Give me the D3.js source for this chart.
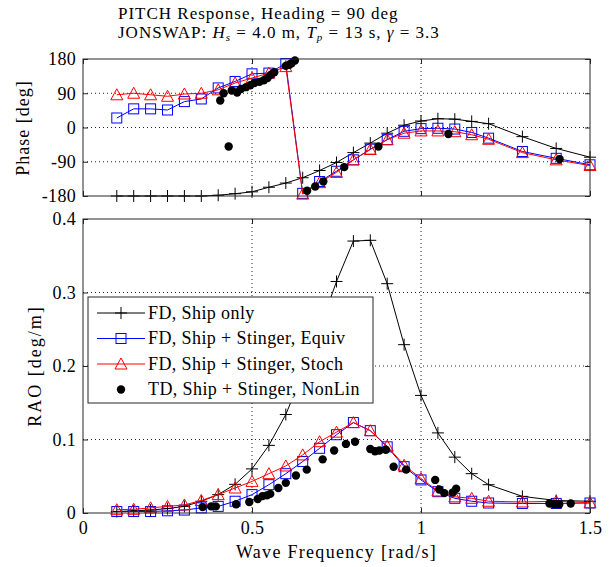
<!DOCTYPE html>
<html>
<head>
<meta charset="utf-8">
<script src="https://cdn.jsdelivr.net/npm/d3@7"></script>
<style>
body { margin: 0; background: #fff; }
text { font-family: "Liberation Serif", "Times New Roman", serif; fill: #000; }
</style>
</head>
<body>
<script>
// frequency-domain results, one value per frequency
var freqFD = [0.1, 0.15, 0.2, 0.25, 0.3, 0.35, 0.4, 0.45, 0.5, 0.55, 0.6, 0.65, 0.7, 0.75, 0.8, 0.85, 0.9, 0.95, 1.0, 1.05, 1.1, 1.15, 1.2, 1.3, 1.4, 1.5];
var phaseShip = [-180, -180, -180, -180, -180, -180, -178, -174, -169, -157, -146, -132, -113, -92, -66, -41, -15, 6, 17, 23, 22, 16, 10, -24, -55, -78];
var phaseEquiv = [25, 49, 49, 46, 68, 75, 104, 121, 141, 143, 168, -173, -142, -115, -85, -57, -32, -10, -3, -2, -4, -13, -28, -63, -81, -98];
var phaseStoch = [86, 90, 86, 82, 88, 90, 99, 117, 130, 143, 160, -175, -145, -118, -85, -58, -32, -15, -9, -9, -11, -19, -31, -66, -85, -100];
var raoShip = [0.002, 0.003, 0.004, 0.006, 0.009, 0.016, 0.025, 0.039, 0.06, 0.092, 0.134, 0.19, 0.25, 0.315, 0.37, 0.371, 0.312, 0.229, 0.16, 0.109, 0.076, 0.0535, 0.0385, 0.0226, 0.017, 0.016];
var raoEquiv = [0.002, 0.002, 0.002, 0.003, 0.004, 0.007, 0.009, 0.016, 0.025, 0.0385, 0.0535, 0.07, 0.088, 0.1065, 0.123, 0.112, 0.09, 0.063, 0.045, 0.029, 0.02, 0.016, 0.0136, 0.013, 0.013, 0.0136];
var raoStoch = [0.0045, 0.005, 0.007, 0.009, 0.011, 0.017, 0.025, 0.034, 0.043, 0.0535, 0.064, 0.079, 0.097, 0.11, 0.123, 0.112, 0.091, 0.065, 0.047, 0.03, 0.022, 0.02, 0.016, 0.015, 0.016, 0.014];

// time-domain (nonlinear) points
var tdFreqPhase = [0.406, 0.416, 0.431, 0.44, 0.456, 0.467, 0.482, 0.495, 0.507, 0.522, 0.535, 0.546, 0.556, 0.566, 0.6, 0.61, 0.617, 0.627, 0.663, 0.687, 0.711, 0.773, 0.874, 1.081, 1.41];
var tdPhase = [71, 90, -50, 97, 92, 101, 106, 111, 117, 120, 124, 130, 139, 145, 162, 165, 169, 176, -166, -155, -142, -104, -50, -17, -83];
var tdFreqRao = [0.354, 0.379, 0.393, 0.453, 0.492, 0.517, 0.531, 0.544, 0.554, 0.578, 0.6, 0.63, 0.662, 0.709, 0.743, 0.778, 0.805, 0.85, 0.864, 0.877, 0.896, 0.919, 0.956, 1.042, 1.054, 1.069, 1.094, 1.104, 1.38, 1.395, 1.409, 1.443];
var tdRao = [0.008, 0.009, 0.009, 0.012, 0.015, 0.019, 0.023, 0.024, 0.026, 0.034, 0.041, 0.051, 0.059, 0.073, 0.085, 0.094, 0.097, 0.087, 0.084, 0.085, 0.086, 0.063, 0.059, 0.045, 0.032, 0.027, 0.028, 0.033, 0.013, 0.012, 0.012, 0.013];

var xTicks = [0, 0.5, 1, 1.5];
var phaseTicks = [-180, -90, 0, 90, 180];
var raoTicks = [0, 0.1, 0.2, 0.3, 0.4];
var legendLabels = ["FD, Ship only", "FD, Ship + Stinger, Equiv", "FD, Ship + Stinger, Stoch", "TD, Ship + Stinger, NonLin"];

var W = 609, H = 567;
var left = 83, right = 590;
var axisColor = "#262626";

var svg = d3.select("body").append("svg").attr("width", W).attr("height", H);

var x = d3.scaleLinear().domain([0, 1.5]).range([left, right]);
var yPh = d3.scaleLinear().domain([-180, 180]).range([196, 59]);
var yRao = d3.scaleLinear().domain([0, 0.4]).range([513, 219]);

function marker(g, type, cx, cy, color) {
    if (type == "plus") {
        g.append("path").attr("d", "M" + (cx - 6) + "," + cy + "h12M" + cx + "," + (cy - 6) + "v12")
            .attr("stroke", color).attr("stroke-width", 1).attr("fill", "none");
    } else if (type == "square") {
        g.append("rect").attr("x", cx - 5).attr("y", cy - 5).attr("width", 10).attr("height", 10)
            .attr("stroke", color).attr("stroke-width", 1).attr("fill", "none");
    } else if (type == "tri") {
        g.append("path").attr("d", "M" + cx + "," + (cy - 6) + "L" + (cx + 6) + "," + (cy + 5) + "L" + (cx - 6) + "," + (cy + 5) + "Z")
            .attr("stroke", color).attr("stroke-width", 1).attr("fill", "none");
    } else {
        g.append("circle").attr("cx", cx).attr("cy", cy).attr("r", 4.2).attr("fill", color);
    }
}

function panel(y, ticks, showX) {
    var top = y.range()[1], bottom = y.range()[0];
    var g = svg.append("g");

    // dotted grid
    xTicks.slice(1, -1).forEach(function(t) {
        g.append("line").attr("x1", x(t)).attr("x2", x(t)).attr("y1", top).attr("y2", bottom)
            .attr("stroke", "#222").attr("stroke-dasharray", "1,3");
    });
    ticks.slice(1, -1).forEach(function(t) {
        g.append("line").attr("x1", left).attr("x2", right).attr("y1", y(t)).attr("y2", y(t))
            .attr("stroke", "#222").attr("stroke-dasharray", "1,3");
    });

    var fmt = function(d) { return String(d); };
    svg.append("g").attr("transform", "translate(0," + bottom + ")")
        .call(d3.axisBottom(x).tickValues(xTicks).tickSize(-5).tickSizeOuter(0).tickPadding(8)
            .tickFormat(showX ? fmt : ""));
    svg.append("g").attr("transform", "translate(0," + top + ")")
        .call(d3.axisTop(x).tickValues(xTicks).tickSize(-5).tickSizeOuter(0).tickFormat(""));
    svg.append("g").attr("transform", "translate(" + left + ",0)")
        .call(d3.axisLeft(y).tickValues(ticks).tickSize(-5).tickSizeOuter(0).tickPadding(7).tickFormat(fmt));
    svg.append("g").attr("transform", "translate(" + right + ",0)")
        .call(d3.axisRight(y).tickValues(ticks).tickSize(-5).tickSizeOuter(0).tickFormat(""));

    svg.selectAll(".domain").remove();
    svg.selectAll(".tick line").attr("stroke", axisColor);
    svg.selectAll(".tick text").style("font-size", "18px").attr("fill", "#222")
        .style("font-family", "Liberation Serif").style("letter-spacing", "0.3px");

    svg.append("rect").attr("x", left).attr("y", top).attr("width", right - left).attr("height", bottom - top)
        .attr("fill", "none").attr("stroke", axisColor).attr("stroke-width", 1);
    return g;
}

function series(g, y, xs, ys, color, type, withLine) {
    if (withLine) {
        var line = d3.line().x(function(d) { return x(d[0]); }).y(function(d) { return y(d[1]); });
        g.append("path").datum(d3.zip(xs, ys)).attr("d", line)
            .attr("fill", "none").attr("stroke", color).attr("stroke-width", 1);
    }
    xs.forEach(function(f, i) { marker(g, type, x(f), y(ys[i]), color); });
}

// phase panel
var gp = panel(yPh, phaseTicks, false);
series(gp, yPh, freqFD, phaseShip, "#000", "plus", true);
series(gp, yPh, freqFD, phaseEquiv, "#0000ff", "square", true);
series(gp, yPh, freqFD, phaseStoch, "#ff0000", "tri", true);
series(gp, yPh, tdFreqPhase, tdPhase, "#000", "dot", false);

// RAO panel
var gr = panel(yRao, raoTicks, true);
series(gr, yRao, freqFD, raoShip, "#000", "plus", true);
series(gr, yRao, freqFD, raoEquiv, "#0000ff", "square", true);
series(gr, yRao, freqFD, raoStoch, "#ff0000", "tri", true);
series(gr, yRao, tdFreqRao, tdRao, "#000", "dot", false);

// legend
var lg = svg.append("g");
lg.append("rect").attr("x", 88).attr("y", 297).attr("width", 285).attr("height", 106)
    .attr("fill", "#fff").attr("stroke", axisColor);
var legColors = ["#000", "#0000ff", "#ff0000", "#000"];
var legTypes = ["plus", "square", "tri", "dot"];
legendLabels.forEach(function(l, i) {
    var ly = 313 + i * 25.5;
    if (i < 3) lg.append("line").attr("x1", 97).attr("x2", 145).attr("y1", ly).attr("y2", ly).attr("stroke", legColors[i]);
    marker(lg, legTypes[i], 121, ly, legColors[i]);
    lg.append("text").attr("x", 148).attr("y", ly).attr("dy", "0.33em")
        .style("font-size", "18px").style("letter-spacing", "0.4px").text(l);
});

// axis labels
svg.append("text").attr("transform", "translate(23,128) rotate(-90)").attr("text-anchor", "middle")
    .attr("dy", "0.33em").style("font-size", "18px").style("letter-spacing", "1px").text("Phase [deg]");
svg.append("text").attr("transform", "translate(35,366) rotate(-90)").attr("text-anchor", "middle")
    .attr("dy", "0.33em").style("font-size", "18px").style("letter-spacing", "2px").text("RAO [deg/m]");
svg.append("text").attr("x", (left + right) / 2).attr("y", 558).attr("text-anchor", "middle")
    .style("font-size", "18px").style("letter-spacing", "1.3px").text("Wave Frequency [rad/s]");

// title
svg.append("text").attr("x", 118).attr("y", 18.5).style("font-size", "17px").style("letter-spacing", "1px")
    .text("PITCH Response, Heading = 90 deg");
var t2 = svg.append("text").attr("x", 118).attr("y", 37.5).style("font-size", "17px").style("letter-spacing", "1px");
t2.append("tspan").text("JONSWAP: ");
t2.append("tspan").style("font-style", "italic").text("H");
t2.append("tspan").style("font-style", "italic").style("font-size", "11px").attr("baseline-shift", "-3").text("s");
t2.append("tspan").text(" = 4.0 m, ");
t2.append("tspan").style("font-style", "italic").text("T");
t2.append("tspan").style("font-style", "italic").style("font-size", "11px").attr("baseline-shift", "-3").text("p");
t2.append("tspan").text(" = 13 s, ");
t2.append("tspan").style("font-style", "italic").text("\u03b3");
t2.append("tspan").text(" = 3.3");
</script>
</body>
</html>
